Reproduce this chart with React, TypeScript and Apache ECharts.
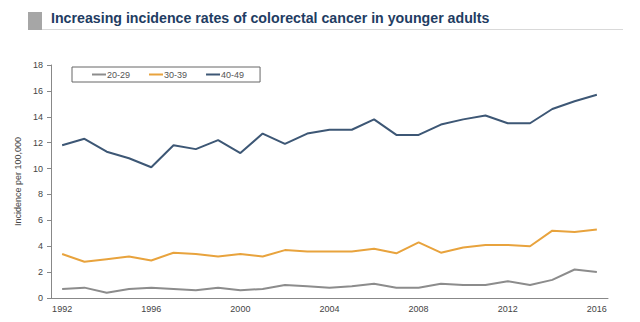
import React, { useEffect, useRef } from "react";
import * as echarts from "echarts";

const years = [
  "1992", "1993", "1994", "1995", "1996", "1997", "1998", "1999", "2000",
  "2001", "2002", "2003", "2004", "2005", "2006", "2007", "2008", "2009",
  "2010", "2011", "2012", "2013", "2014", "2015", "2016",
];
const age2029 = [0.7, 0.8, 0.4, 0.7, 0.8, 0.7, 0.6, 0.8, 0.6, 0.7, 1.0, 0.9, 0.8, 0.9, 1.1, 0.8, 0.8, 1.1, 1.0, 1.0, 1.3, 1.0, 1.4, 2.2, 2.0];
const age3039 = [3.4, 2.8, 3.0, 3.2, 2.9, 3.5, 3.4, 3.2, 3.4, 3.2, 3.7, 3.6, 3.6, 3.6, 3.8, 3.45, 4.3, 3.5, 3.9, 4.1, 4.1, 4.0, 5.2, 5.1, 5.3];
const age4049 = [11.8, 12.3, 11.3, 10.8, 10.1, 11.8, 11.5, 12.2, 11.2, 12.7, 11.9, 12.7, 13.0, 13.0, 13.8, 12.6, 12.6, 13.4, 13.8, 14.1, 13.5, 13.5, 14.6, 15.2, 15.7];
const seriesNames = ["20-29", "30-39", "40-49"];
const titleText = "Increasing incidence rates of colorectal cancer in younger adults";
const yAxisName = "Incidence per 100,000";

export default function App() {
  const ref = useRef<HTMLDivElement>(null);
  useEffect(() => {
    if (!ref.current) return;
    const chart = echarts.init(ref.current, undefined, { renderer: "svg" });
    const font = "Liberation Sans, Arial, sans-serif";
    const mk = (name: string, data: number[], color: string) => ({
      name,
      type: "line",
      data,
      symbol: "none",
      lineStyle: { color, width: 2 },
      itemStyle: { color },
    });
    chart.setOption({
      animation: false,
      backgroundColor: "#ffffff",
      textStyle: { fontFamily: font },
      graphic: [
        { type: "rect", shape: { x: 28, y: 12, width: 14, height: 18 }, style: { fill: "#a6a6a6" } },
        { type: "line", shape: { x1: 42, y1: 29.5, x2: 623, y2: 29.5 }, style: { stroke: "#d9d9d9", lineWidth: 1 } },
        {
          type: "text",
          x: 51,
          y: 18,
          style: {
            text: titleText,
            fontSize: 14.2,
            fontWeight: "bold",
            fontFamily: font,
            fill: "#1f3d63",
            verticalAlign: "middle",
          },
        },
      ],
      legend: {
        data: seriesNames,
        left: 72,
        top: 67,
        padding: [3, 16, 3, 20],
        itemGap: 19,
        itemWidth: 14,
        itemHeight: 2,
        icon: "rect",
        borderColor: "#666666",
        borderWidth: 1,
        textStyle: { fontSize: 9, color: "#555555", padding: [0, 0, 0, -4] },
      },
      grid: { left: 51, right: 32, top: 65, bottom: 24, containLabel: false },
      xAxis: {
        type: "category",
        data: years,
        boundaryGap: true,
        axisLine: { lineStyle: { color: "#888888", width: 1 } },
        axisTick: { interval: 0, length: 4, lineStyle: { color: "#888888" } },
        axisLabel: { interval: 3, fontSize: 9, color: "#444444", margin: 6 },
      },
      yAxis: {
        type: "value",
        min: 0,
        max: 18,
        interval: 2,
        name: yAxisName,
        nameLocation: "middle",
        nameRotate: 90,
        nameGap: 25,
        nameTextStyle: { fontSize: 9, color: "#444444" },
        axisLine: { show: true, lineStyle: { color: "#888888", width: 1 } },
        axisTick: { show: true, length: 4, lineStyle: { color: "#888888" } },
        axisLabel: { fontSize: 9, color: "#444444", margin: 8 },
        splitLine: { show: false },
      },
      series: [
        mk(seriesNames[0], age2029, "#8c8c8c"),
        mk(seriesNames[1], age3039, "#e8a33d"),
        mk(seriesNames[2], age4049, "#3d5775"),
      ],
    });
    return () => chart.dispose();
  }, []);
  return (
    <div
      ref={ref}
      style={{ position: "fixed", left: 0, top: 0, width: 640, height: 322 }}
    />
  );
}
